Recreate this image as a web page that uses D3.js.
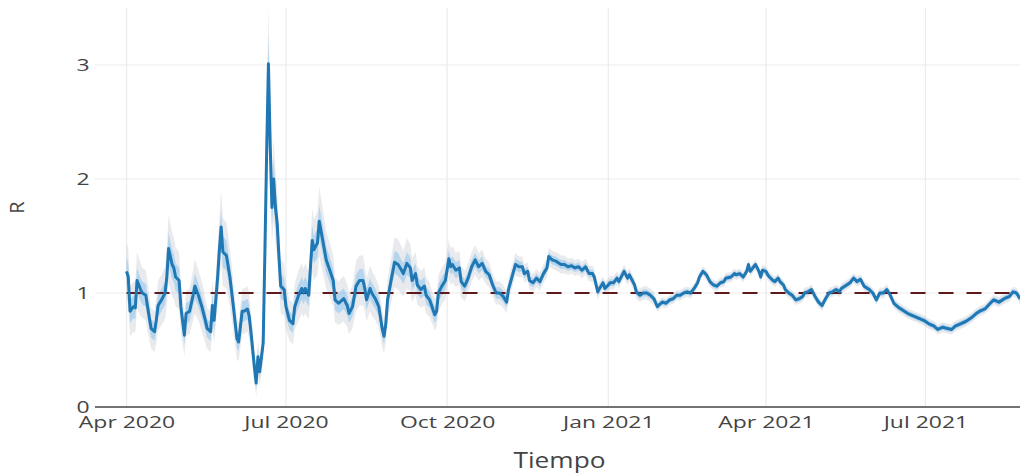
<!DOCTYPE html>
<html>
<head>
<meta charset="utf-8">
<script src="https://cdn.jsdelivr.net/npm/d3@7"></script>
<style>
  body { margin: 0; background: #fff; }
  svg { display: block; }
  text { font-family: "Open Sans", "DejaVu Sans", sans-serif; fill: #444; }
</style>
</head>
<body>
<svg id="chart"></svg>
<script>
// days since 2020-04-01 for each estimate
const dayIndex = [
  0,1,2,4,5,6,8,9,11,12, 14,16,17,18,20,22,23,24,26,27,
  28,30,31,33,34,36,38,39,41,43, 45,46,48,49,50,52,53,54,55,57,
  59,61,63,64,66,67,69,70,71,73, 74,75,76,78,79,80,81,82,83,84,
  85,86,87,88,90,91,93,95,96,98, 100,101,102,104,105,106,107,109,110,112,
  114,116,118,119,121,124,126,127,129,131, 133,135,136,137,139,140,142,144,146,147,
  148,149,151,153,155,157,158,160,162,163, 165,166,168,170,171,173,175,176,177,178,
  180,182,184,185,186,188,190,191,193,195, 197,199,201,203,205,207,209,211,213,215,
  217,218,220,222,224,226,227,229,230,232, 234,236,238,240,241,243,245,246,248,250,
  252,254,256,258,260,262,264,266,267,269, 270,272,273,275,276,278,280,281,283,284,
  286,287,288,290,291,293,295,297,299,301, 303,305,306,308,310,312,314,316,318,320,
  322,324,326,327,329,331,333,335,337,339, 341,342,345,347,348,350,352,354,355,356,
  358,359,361,362,363,365,366,367,369,370, 372,373,375,376,378,380,382,384,386,387,
  389,391,393,395,397,399,401,403,405,407, 408,410,413,415,417,419,421,424,426,428,
  430,432,434,436,438,441,444,446,449,452, 455,458,461,463,466,468,471,473,476,479,
  482,485,487,490,493,495,498,501,504,506, 508,510
];

// R estimate (mean)
const rMean = [
  1.19,1.14,0.84,0.88,0.87,1.11,1.03,1.00,0.98,0.88, 0.69,0.66,0.76,0.89,0.94,1.00,1.14,1.39,1.25,1.22,
  1.14,1.11,0.88,0.63,0.82,0.84,0.98,1.06,0.98,0.88, 0.76,0.69,0.66,0.89,0.76,1.14,1.38,1.58,1.36,1.33,
  1.14,0.88,0.60,0.57,0.84,0.84,0.86,0.80,0.66,0.35, 0.21,0.44,0.31,0.56,1.38,2.25,3.01,2.30,1.75,2.00,
  1.75,1.61,1.32,1.06,1.03,0.88,0.76,0.73,0.88,0.97, 1.04,1.00,1.04,0.98,1.23,1.46,1.38,1.44,1.63,1.46,
  1.29,1.20,1.11,0.94,0.91,0.95,0.89,0.82,0.88,1.06, 1.11,1.11,1.04,0.94,1.04,1.00,0.95,0.88,0.68,0.62,
  0.73,0.94,1.11,1.27,1.25,1.20,1.17,1.26,1.22,1.11, 1.17,1.07,1.03,1.06,0.98,0.94,0.85,0.81,0.84,1.00,
  1.06,1.11,1.30,1.23,1.25,1.20,1.22,1.10,1.06,1.13, 1.23,1.29,1.23,1.26,1.19,1.16,1.07,1.00,1.00,0.97,
  0.92,1.03,1.14,1.25,1.23,1.23,1.17,1.19,1.11,1.09, 1.13,1.10,1.17,1.22,1.32,1.29,1.28,1.27,1.25,1.25,
  1.23,1.24,1.22,1.23,1.20,1.23,1.17,1.17,1.14,1.01, 1.04,1.09,1.04,1.07,1.09,1.09,1.13,1.10,1.16,1.19,
  1.13,1.16,1.13,1.07,1.01,0.98,1.00,1.00,0.98,0.95, 0.88,0.91,0.92,0.91,0.94,0.95,0.98,0.98,1.00,1.01,
  1.00,1.04,1.09,1.14,1.19,1.16,1.10,1.07,1.06,1.09, 1.10,1.13,1.14,1.17,1.16,1.17,1.14,1.19,1.25,1.19,
  1.23,1.25,1.19,1.14,1.20,1.19,1.16,1.14,1.11,1.10, 1.13,1.10,1.07,1.03,1.00,0.98,0.94,0.95,0.97,1.00,
  1.01,1.03,0.97,0.92,0.89,0.95,1.00,1.01,1.03,1.01, 1.04,1.06,1.09,1.13,1.10,1.12,1.06,1.03,1.00,0.94,
  1.00,1.00,1.03,0.98,0.91,0.87,0.84,0.82,0.80,0.78, 0.76,0.73,0.71,0.68,0.70,0.69,0.68,0.71,0.73,0.75,
  0.78,0.82,0.84,0.86,0.91,0.94,0.92,0.95,0.97,1.01, 1.00,0.95
];

// half width of the inner (50%) band
const ci50 = [
  .12,.12,.10,.10,.10,.11,.10,.10,.10,.10, .08,.08,.09,.10,.10,.10,.12,.14,.13,.12,
  .12,.11,.10,.08,.09,.09,.10,.11,.10,.10, .09,.08,.08,.10,.09,.12,.14,.15,.14,.13,
  .12,.10,.08,.08,.09,.09,.09,.09,.08,.07, .06,.07,.06,.08,.13,.20,.25,.20,.16,.18,
  .16,.15,.13,.11,.10,.09,.08,.08,.09,.10, .10,.10,.10,.10,.11,.13,.12,.13,.14,.13,
  .12,.11,.10,.09,.09,.09,.09,.08,.09,.10, .10,.10,.09,.09,.09,.09,.09,.08,.07,.07,
  .07,.08,.09,.10,.10,.09,.09,.10,.09,.09, .09,.08,.08,.08,.08,.07,.07,.07,.07,.08,
  .08,.08,.08,.07,.07,.07,.07,.06,.06,.06, .06,.06,.06,.06,.05,.05,.05,.05,.05,.05,
  .05,.05,.05,.05,.05,.04,.04,.04,.04,.04, .04,.04,.04,.04,.04,.04,.04,.04,.04,.04,
  .035,.035,.035,.035,.035,.035,.035,.035,.035,.035, .03,.03,.03,.03,.03,.03,.03,.03,.03,.03,
  .03,.03,.03,.03,.03,.03,.03,.03,.03,.03, .025,.025,.025,.025,.025,.025,.025,.025,.025,.025,
  .025,.025,.025,.025,.025,.025,.025,.025,.025,.025, .025,.025,.025,.025,.025,.025,.025,.025,.025,.025,
  .025,.025,.025,.025,.025,.025,.025,.025,.025,.025, .025,.025,.025,.025,.025,.025,.025,.025,.025,.025,
  .025,.025,.025,.025,.025,.025,.025,.025,.025,.025, .025,.025,.025,.025,.025,.025,.025,.025,.025,.025,
  .025,.025,.025,.025,.025,.025,.025,.025,.025,.025, .025,.025,.025,.025,.025,.025,.025,.025,.025,.025,
  .025,.025,.025,.025,.025,.025,.025,.025,.025,.025, .025,.025
];

// half width of the outer (95%) band
const ci95 = [
  .25,.25,.22,.22,.22,.25,.23,.22,.22,.22, .18,.18,.20,.22,.22,.23,.26,.30,.28,.27,
  .26,.25,.22,.18,.20,.20,.22,.24,.22,.22, .20,.18,.18,.22,.20,.26,.30,.32,.30,.29,
  .26,.22,.18,.17,.20,.20,.20,.20,.18,.14, .12,.15,.13,.17,.28,.40,.50,.42,.32,.36,
  .32,.30,.27,.24,.23,.20,.18,.18,.20,.22, .22,.21,.22,.21,.25,.28,.27,.28,.30,.28,
  .25,.24,.22,.20,.19,.20,.19,.18,.19,.22, .22,.22,.20,.19,.20,.20,.19,.18,.16,.15,
  .16,.18,.20,.22,.22,.21,.20,.22,.21,.19, .19,.17,.16,.17,.16,.15,.14,.14,.14,.16,
  .16,.16,.17,.16,.16,.15,.15,.14,.13,.13, .13,.13,.12,.12,.11,.11,.10,.10,.10,.10,
  .10,.10,.10,.10,.09,.09,.08,.08,.08,.08, .08,.08,.08,.08,.08,.08,.08,.08,.08,.08,
  .07,.07,.07,.07,.07,.07,.07,.07,.07,.07, .06,.06,.06,.06,.06,.06,.06,.06,.06,.06,
  .06,.06,.06,.06,.06,.06,.06,.06,.06,.06, .045,.045,.045,.045,.045,.045,.045,.045,.045,.045,
  .045,.045,.045,.045,.045,.045,.045,.045,.045,.045, .045,.045,.045,.045,.045,.045,.045,.045,.045,.045,
  .045,.045,.045,.045,.045,.045,.045,.045,.045,.045, .045,.045,.045,.045,.045,.045,.045,.045,.045,.045,
  .045,.045,.045,.045,.045,.045,.045,.045,.045,.045, .045,.045,.045,.045,.045,.045,.045,.045,.045,.045,
  .045,.045,.045,.045,.045,.045,.045,.045,.045,.045, .045,.045,.045,.045,.045,.045,.045,.045,.045,.045,
  .045,.045,.045,.045,.045,.045,.045,.045,.045,.045, .045,.045
];

const yTicks = [0, 1, 2, 3];
const referenceR = 1;
const xTitle = "Tiempo";
const yTitle = "R";

const width = 1020;
const height = 476;
const marginLeft = 95;
const marginRight = 0;
const marginTop = 8;
const marginBottom = 69;
const stretch = 1.35; // the reference text is wider than it is tall

const start = new Date(Date.UTC(2020, 3, 1));
const data = dayIndex.map((d, i) => ({
    date: d3.utcDay.offset(start, d),
    r: rMean[i],
    lo50: rMean[i] - ci50[i], hi50: rMean[i] + ci50[i],
    lo95: Math.max(0, rMean[i] - ci95[i]), hi95: rMean[i] + ci95[i]
}));

const x = d3.scaleUtc()
    .domain([new Date(Date.UTC(2020, 2, 14)), new Date(Date.UTC(2021, 7, 24))])
    .range([marginLeft, width - marginRight]);

const y = d3.scaleLinear()
    .domain([0, 3.5])
    .range([height - marginBottom, marginTop]);

const svg = d3.select("#chart")
    .attr("width", width)
    .attr("height", height)
    .attr("viewBox", [0, 0, width, height]);

svg.append("rect").attr("width", width).attr("height", height).attr("fill", "#fff");

// grid
const xTicks = x.ticks(d3.utcMonth.every(3));
svg.append("g")
    .attr("stroke", "#ebebeb")
    .attr("stroke-width", 1.2)
    .selectAll("line")
    .data(xTicks)
    .join("line")
    .attr("x1", d => x(d)).attr("x2", d => x(d))
    .attr("y1", marginTop).attr("y2", y(0));

svg.append("g")
    .attr("stroke", "#ebebeb")
    .attr("stroke-width", 1.2)
    .selectAll("line")
    .data(yTicks.filter(d => d > 0))
    .join("line")
    .attr("x1", marginLeft).attr("x2", width - marginRight)
    .attr("y1", d => y(d)).attr("y2", d => y(d));

// bands
svg.append("path")
    .datum(data)
    .attr("fill", "rgba(165,172,185,0.26)")
    .attr("d", d3.area().x(d => x(d.date)).y0(d => y(d.lo95)).y1(d => y(d.hi95)));

svg.append("path")
    .datum(data)
    .attr("fill", "rgba(120,188,240,0.45)")
    .attr("d", d3.area().x(d => x(d.date)).y0(d => y(d.lo50)).y1(d => y(d.hi50)));

// reference line at R = 1
svg.append("line")
    .attr("x1", x(data[0].date)).attr("x2", x(data[data.length - 1].date))
    .attr("y1", y(referenceR)).attr("y2", y(referenceR))
    .attr("stroke", "#5e1a1a")
    .attr("stroke-width", 1.8)
    .attr("stroke-dasharray", "15,13");

// mean line
svg.append("path")
    .datum(data)
    .attr("fill", "none")
    .attr("stroke", "#1f77b4")
    .attr("stroke-width", 3)
    .attr("stroke-linejoin", "round")
    .attr("d", d3.line().x(d => x(d.date)).y(d => y(d.r)));

// x axis (zero line)
svg.append("line")
    .attr("x1", marginLeft).attr("x2", width - marginRight)
    .attr("y1", y(0)).attr("y2", y(0))
    .attr("stroke", "#444")
    .attr("stroke-width", 1.6);

svg.append("g")
    .attr("transform", `translate(0,${y(0)})`)
    .call(d3.axisBottom(x).tickValues(xTicks).tickFormat(d3.utcFormat("%b %Y")).tickSize(0).tickPadding(9))
    .call(g => g.select(".domain").remove())
    .call(g => g.selectAll("text")
        .attr("font-size", 17).attr("font-family", null).attr("fill", "#444")
        .attr("transform", `scale(${stretch},1)`));

svg.append("g")
    .attr("transform", `translate(${marginLeft},0)`)
    .call(d3.axisLeft(y).tickValues(yTicks).tickFormat(d3.format("d")).tickSize(0).tickPadding(4))
    .call(g => g.select(".domain").remove())
    .call(g => g.selectAll("text")
        .attr("font-size", 17).attr("font-family", null).attr("fill", "#444")
        .attr("transform", `scale(${stretch},1)`));

// titles
svg.append("text")
    .attr("transform", `translate(${(marginLeft + width) / 2 + 2},468) scale(1.25,1)`)
    .attr("text-anchor", "middle")
    .attr("font-size", 21)
    .text(xTitle);

svg.append("text")
    .attr("transform", `translate(24,${(marginTop + y(0)) / 2}) rotate(-90)`)
    .attr("text-anchor", "middle")
    .attr("font-size", 20)
    .text(yTitle);
</script>
</body>
</html>
